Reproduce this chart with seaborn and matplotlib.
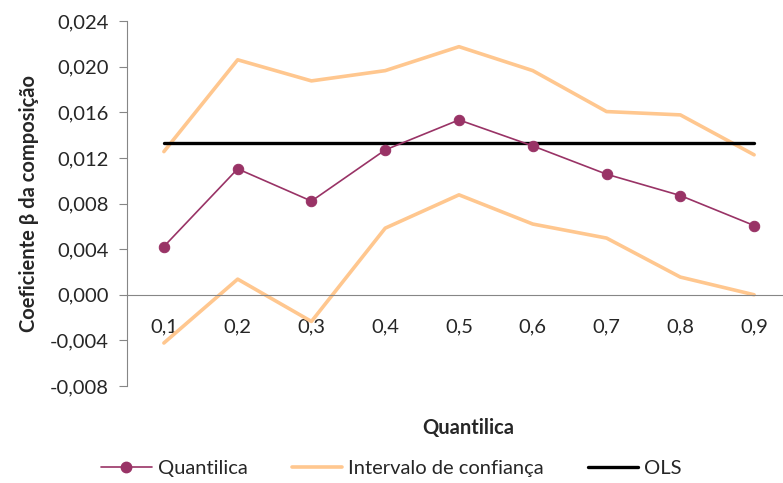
import matplotlib
matplotlib.use('Agg')
import numpy as np
import pandas as pd
import seaborn as sns
from matplotlib import pyplot as plt
from matplotlib.lines import Line2D
from matplotlib.ticker import FuncFormatter

# Values
quantis = [0.1, 0.2, 0.3, 0.4, 0.5, 0.6, 0.7, 0.8, 0.9]
quantilica = [0.00423, 0.01104, 0.00821, 0.0127, 0.01533, 0.01305, 0.01057, 0.0087, 0.00607]
ic_superior = [0.01255, 0.0206, 0.01875, 0.01965, 0.02175, 0.01965, 0.01606, 0.01577, 0.01227]
ic_inferior = [-0.00423, 0.00137, -0.00234, 0.00584, 0.00876, 0.0062, 0.00497, 0.00155, 0.0]
ols = 0.0133

df = pd.DataFrame({
    'quantil': quantis,
    'quantilica': quantilica,
    'superior': ic_superior,
    'inferior': ic_inferior,
    'ols': [ols] * len(quantis),
})

sns.set_style('white')
plt.rcParams['font.family'] = ['Lato', 'DejaVu Sans']

cor_q = '#993366'
cor_ic = '#FFC78F'
cor_ols = '#000000'
fs = 14.5

fig = plt.figure(figsize=(7.83, 4.83), dpi=100)
ax = fig.add_axes([0.1622, 0.2008, 0.848, 0.7557])

sns.lineplot(data=df, x='quantil', y='superior', color=cor_ic, lw=2.6, ax=ax, zorder=2)
sns.lineplot(data=df, x='quantil', y='inferior', color=cor_ic, lw=2.6, ax=ax, zorder=2)
sns.lineplot(data=df, x='quantil', y='ols', color=cor_ols, lw=2.4, ax=ax, zorder=3)
sns.lineplot(data=df, x='quantil', y='quantilica', color=cor_q, lw=1.2, marker='o',
             markersize=7.5, markeredgecolor=cor_q, ax=ax, zorder=4)

ax.set_xlim(0.05, 0.95)
ax.set_ylim(-0.008, 0.024)
ax.set_yticks(np.arange(-0.008, 0.0241, 0.004))
ax.yaxis.set_major_formatter(FuncFormatter(lambda v, p: f'{v:.3f}'.replace('.', ',').replace('-0,000', '0,000')))
ax.set_xticks(quantis)
ax.set_xticklabels([f'{q:.1f}'.replace('.', ',') for q in quantis])

for s in ['top', 'right']:
    ax.spines[s].set_visible(False)
ax.spines['left'].set_color('#868686')
ax.spines['left'].set_linewidth(0.8)
ax.spines['bottom'].set_position(('data', 0))
ax.spines['bottom'].set_color('#868686')
ax.spines['bottom'].set_linewidth(0.8)

ax.tick_params(axis='y', direction='out', length=6, width=0.8, color='#868686',
               labelsize=fs, pad=7, left=True)
ax.tick_params(axis='x', length=0, labelsize=fs, pad=17)

ax.set_xlabel('')
ax.set_ylabel('Coeficiente β da composição', fontsize=fs, fontweight='bold', labelpad=8)
fig.text(0.598, 0.114, 'Quantilica', ha='center', va='center', fontsize=fs, fontweight='bold')

handles = [
    Line2D([], [], color=cor_q, lw=1.2, marker='o', markersize=7.5),
    Line2D([], [], color=cor_ic, lw=2.6),
    Line2D([], [], color=cor_ols, lw=2.4),
]
fig.legend(handles, ['Quantilica', 'Intervalo de confiança', 'OLS'], loc='center',
           bbox_to_anchor=(0.5, 0.031), ncol=3, frameon=False, fontsize=fs,
           handlelength=2.5, handletextpad=0.3, columnspacing=2.2)

fig.savefig('out.png', dpi=100)
